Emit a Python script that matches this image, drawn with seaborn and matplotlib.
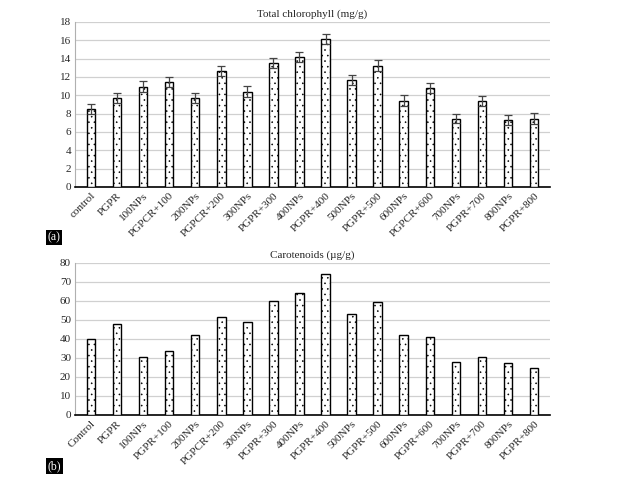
import pandas as pd
import matplotlib
matplotlib.use("Agg")
import matplotlib.pyplot as plt
import seaborn as sns

# === DATA ===
chl_labels = ["control", "PGPR", "100NPs", "PGPCR+100", "200NPs", "PGPCR+200",
              "300NPs", "PGPR+300", "400NPs", "PGPR+400", "500NPs", "PGPR+500",
              "600NPs", "PGPCR+600", "700NPs", "PGPR+700", "800NPs", "PGPR+800"]
chl_values = [8.5, 9.75, 10.95, 11.4, 9.75, 12.6, 10.4, 13.55, 14.2, 16.15,
              11.7, 13.25, 9.4, 10.75, 7.45, 9.4, 7.35, 7.45]
chl_err = [0.5, 0.55, 0.6, 0.55, 0.55, 0.55, 0.6, 0.55, 0.55, 0.55,
           0.55, 0.55, 0.6, 0.55, 0.5, 0.55, 0.55, 0.6]

car_labels = ["Control", "PGPR", "100NPs", "PGPR+100", "200NPs", "PGPCR+200",
              "300NPs", "PGPR+300", "400NPs", "PGPR+400", "500NPs", "PGPR+500",
              "600NPs", "PGPR+600", "700NPs", "PGPR+700", "800NPs", "PGPR+800"]
car_values = [39.8, 48.1, 30.4, 33.5, 41.9, 51.3, 48.7, 59.7, 64.4, 74.0,
              52.9, 59.2, 42.3, 40.8, 27.6, 30.4, 27.2, 24.6]

df_chl = pd.DataFrame({"treatment": chl_labels, "value": chl_values})
df_car = pd.DataFrame({"treatment": car_labels, "value": car_values})

# === STYLE ===
sns.set_style("white")
plt.rcParams["font.family"] = ["Liberation Serif", "DejaVu Serif"]
plt.rcParams["hatch.linewidth"] = 0.4
fs = 8

fig = plt.figure(figsize=(6.32, 4.78), dpi=100)
ax1 = fig.add_axes([0.119, 0.609, 0.751, 0.345])
ax2 = fig.add_axes([0.119, 0.132, 0.751, 0.318])


def draw_panel(ax, df, title, ymax, step):
    sns.barplot(data=df, x="treatment", y="value", ax=ax, color="white",
                edgecolor="black", linewidth=1.0, width=0.33, hatch="...",
                errorbar=None, zorder=3)
    ax.set_ylim(0, ymax)
    ax.set_yticks(range(0, ymax + 1, step))
    ax.set_xlim(-0.6, len(df) - 0.4)
    ax.yaxis.grid(True, color="#d0d0d0", linewidth=0.9, zorder=0)
    ax.set_axisbelow(True)
    for s in ["top", "right"]:
        ax.spines[s].set_visible(False)
    ax.spines["left"].set_color("#b0b0b0")
    ax.spines["left"].set_linewidth(0.8)
    ax.spines["bottom"].set_color("black")
    ax.spines["bottom"].set_linewidth(1.2)
    ax.tick_params(axis="both", length=0, labelsize=fs, pad=3)
    ax.set_xticks(range(len(df)))
    ax.set_xticklabels(df["treatment"], rotation=45, ha="right",
                       rotation_mode="anchor", fontsize=fs)
    ax.set_xlabel("")
    ax.set_ylabel("")
    ax.set_title(title, fontsize=fs, pad=4)


draw_panel(ax1, df_chl, "Total chlorophyll (mg/g)", 18, 2)
ax1.errorbar(range(len(chl_values)), chl_values, yerr=chl_err, fmt="none",
             ecolor="#444444", elinewidth=0.9, capsize=3, capthick=0.9, zorder=4)

draw_panel(ax2, df_car, "Carotenoids (\u00b5g/g)", 80, 10)

# panel labels
fig.text(0.075, 0.503, "(a)", fontsize=8.5, color="white", ha="left", va="center",
         bbox=dict(facecolor="black", edgecolor="none", pad=1.2))
fig.text(0.075, 0.025, "(b)", fontsize=8.5, color="white", ha="left", va="center",
         bbox=dict(facecolor="black", edgecolor="none", pad=1.2))

fig.savefig("out.png", dpi=100)
